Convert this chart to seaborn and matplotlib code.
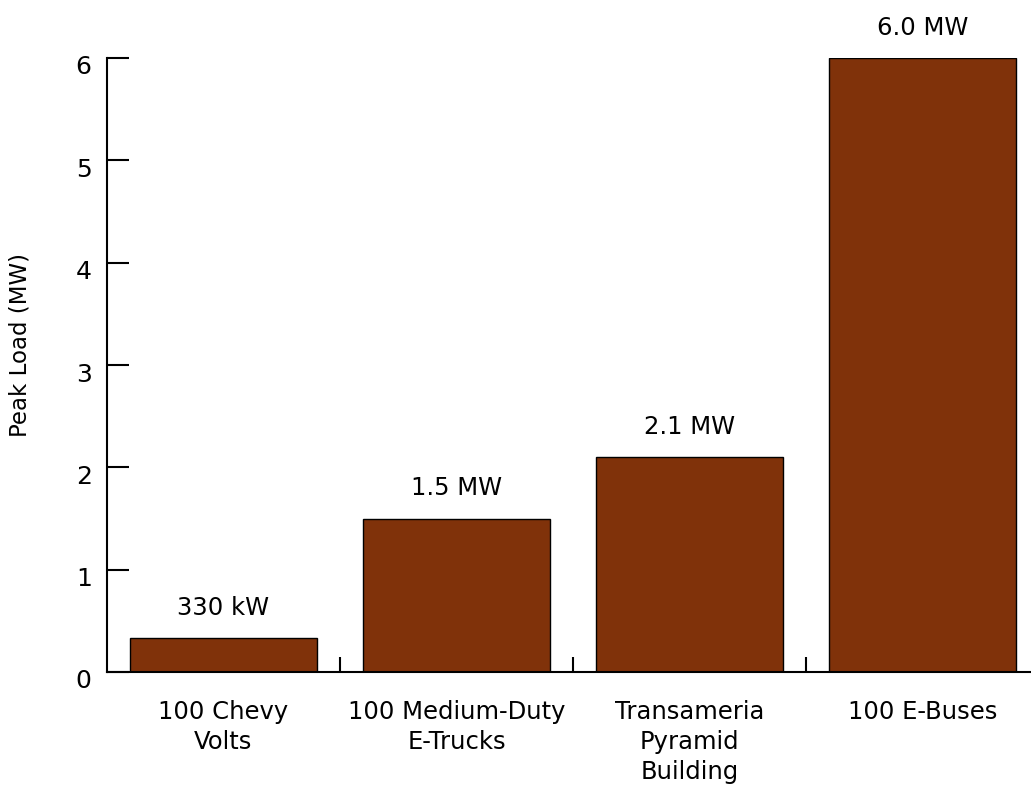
import matplotlib
matplotlib.use("Agg")
import matplotlib.pyplot as plt
import matplotlib.transforms as mtransforms
import seaborn as sns
import pandas as pd

categories = ["100 Chevy\nVolts", "100 Medium-Duty\nE-Trucks", "Transameria\nPyramid\nBuilding", "100 E-Buses"]
peak_mw = [0.33, 1.5, 2.1, 6.0]
value_labels = ["330 kW", "1.5 MW", "2.1 MW", "6.0 MW"]
y_ticks = [0, 1, 2, 3, 4, 5, 6]

sns.set_theme(style="white")
plt.rcParams["font.family"] = ["DejaVu Sans"]

df = pd.DataFrame({"category": categories, "peak": peak_mw})

fig = plt.figure(figsize=(10.31, 7.88), dpi=100)
ax = fig.add_axes([107/1031, (788-672)/788, (1039-107)/1031, (672-58)/788])

sns.barplot(data=df, x="category", y="peak", color="#80320A", saturation=1,
            edgecolor="black", linewidth=1.0, width=0.8, ax=ax)

ax.set_xlim(-0.5, 3.5)
ax.set_ylim(0, 6)
ax.set_yticks(y_ticks)
ax.set_yticklabels([str(t) for t in y_ticks], fontsize=18, color="black")
ax.set_xticks(range(len(categories)))
ax.set_xticklabels(categories, fontsize=17.5, color="black", linespacing=1.33)
ax.set_xticks([0.5, 1.5, 2.5], minor=True)

ax.tick_params(axis="y", which="major", direction="in", length=16, width=1.5,
               color="black", left=True, pad=11)
ax.tick_params(axis="x", which="major", length=0, pad=20, bottom=True)
ax.tick_params(axis="x", which="minor", direction="in", length=11, width=1.5,
               color="black", bottom=True)

# y tick labels sit slightly below their ticks in the reference
shift = mtransforms.ScaledTranslation(0, -7/100, fig.dpi_scale_trans)
for lbl in ax.get_yticklabels():
    lbl.set_transform(lbl.get_transform() + shift)

ax.set_xlabel("")
ax.set_ylabel("Peak Load (MW)", fontsize=16.5, color="black", labelpad=32)
ax.yaxis.label.set_y(0.533)

for side in ["top", "right"]:
    ax.spines[side].set_visible(False)
for side in ["left", "bottom"]:
    ax.spines[side].set_color("black")
    ax.spines[side].set_linewidth(1.5)

for container in ax.containers:
    ax.bar_label(container, labels=value_labels, padding=13, fontsize=17.5,
                 color="black", clip_on=False)

fig.savefig("out.png", dpi=100)
